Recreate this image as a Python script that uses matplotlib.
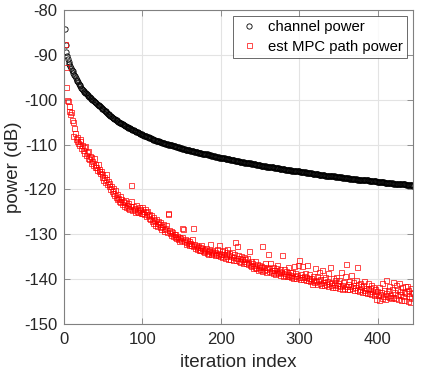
import numpy as np
import matplotlib.pyplot as plt

plt.rcParams['font.family'] = ['Liberation Sans', 'DejaVu Sans']
plt.rcParams['axes.unicode_minus'] = False

# channel power per iteration (dB)
channel_power = [
    -84.3, -87.8, -89.3, -90.2, -90.9, -91.5, -92.0, -92.5, -92.9, -93.3,
    -93.7, -94.1, -94.5, -94.8, -95.2, -95.5, -95.8, -96.1, -96.4, -96.7,
    -97.0, -97.3, -97.5, -97.8, -98.0, -98.2, -98.4, -98.6, -98.8, -99.0,
    -99.2, -99.3, -99.5, -99.7, -99.8, -100.0, -100.1, -100.3, -100.5, -100.6,
    -100.8, -100.9, -101.1, -101.2, -101.4, -101.5, -101.7, -101.8, -102.0, -102.1,
    -102.3, -102.5, -102.6, -102.8, -102.9, -103.1, -103.2, -103.4, -103.6, -103.7,
    -103.8, -104.0, -104.1, -104.2, -104.4, -104.5, -104.6, -104.7, -104.9, -105.0,
    -105.1, -105.2, -105.3, -105.4, -105.5, -105.6, -105.7, -105.8, -105.9, -106.0,
    -106.1, -106.2, -106.3, -106.4, -106.5, -106.6, -106.7, -106.8, -106.8, -106.9,
    -107.0, -107.1, -107.2, -107.3, -107.4, -107.5, -107.6, -107.6, -107.7, -107.8,
    -107.9, -108.0, -108.0, -108.1, -108.2, -108.3, -108.3, -108.4, -108.5, -108.6,
    -108.6, -108.7, -108.8, -108.9, -108.9, -109.0, -109.1, -109.1, -109.2, -109.3,
    -109.3, -109.4, -109.4, -109.5, -109.6, -109.6, -109.7, -109.7, -109.8, -109.8,
    -109.9, -109.9, -110.0, -110.0, -110.1, -110.1, -110.2, -110.2, -110.3, -110.3,
    -110.4, -110.4, -110.5, -110.5, -110.6, -110.6, -110.7, -110.7, -110.8, -110.8,
    -110.9, -110.9, -111.0, -111.0, -111.1, -111.1, -111.2, -111.2, -111.3, -111.3,
    -111.4, -111.4, -111.4, -111.5, -111.5, -111.6, -111.6, -111.7, -111.7, -111.7,
    -111.8, -111.8, -111.9, -111.9, -111.9, -112.0, -112.0, -112.1, -112.1, -112.1,
    -112.2, -112.2, -112.2, -112.3, -112.3, -112.4, -112.4, -112.5, -112.5, -112.6,
    -112.6, -112.6, -112.7, -112.7, -112.8, -112.8, -112.8, -112.9, -112.9, -113.0,
    -113.0, -113.0, -113.1, -113.1, -113.1, -113.2, -113.2, -113.2, -113.3, -113.3,
    -113.3, -113.4, -113.4, -113.4, -113.5, -113.5, -113.5, -113.6, -113.6, -113.6,
    -113.7, -113.7, -113.7, -113.8, -113.8, -113.8, -113.9, -113.9, -113.9, -114.0,
    -114.0, -114.0, -114.1, -114.1, -114.1, -114.2, -114.2, -114.2, -114.3, -114.3,
    -114.3, -114.4, -114.4, -114.4, -114.5, -114.5, -114.5, -114.6, -114.6, -114.6,
    -114.7, -114.7, -114.7, -114.7, -114.8, -114.8, -114.8, -114.9, -114.9, -114.9,
    -115.0, -115.0, -115.0, -115.0, -115.1, -115.1, -115.1, -115.2, -115.2, -115.2,
    -115.2, -115.3, -115.3, -115.3, -115.4, -115.4, -115.4, -115.4, -115.5, -115.5,
    -115.5, -115.6, -115.6, -115.6, -115.6, -115.7, -115.7, -115.7, -115.7, -115.8,
    -115.8, -115.8, -115.8, -115.9, -115.9, -115.9, -116.0, -116.0, -116.0, -116.0,
    -116.1, -116.1, -116.1, -116.1, -116.2, -116.2, -116.2, -116.2, -116.3, -116.3,
    -116.3, -116.3, -116.4, -116.4, -116.4, -116.4, -116.5, -116.5, -116.5, -116.5,
    -116.6, -116.6, -116.6, -116.6, -116.7, -116.7, -116.7, -116.7, -116.8, -116.8,
    -116.8, -116.8, -116.9, -116.9, -116.9, -116.9, -117.0, -117.0, -117.0, -117.0,
    -117.1, -117.1, -117.1, -117.1, -117.1, -117.2, -117.2, -117.2, -117.2, -117.3,
    -117.3, -117.3, -117.3, -117.3, -117.4, -117.4, -117.4, -117.4, -117.5, -117.5,
    -117.5, -117.5, -117.5, -117.6, -117.6, -117.6, -117.6, -117.6, -117.7, -117.7,
    -117.7, -117.7, -117.7, -117.8, -117.8, -117.8, -117.8, -117.8, -117.9, -117.9,
    -117.9, -117.9, -117.9, -118.0, -118.0, -118.0, -118.0, -118.0, -118.1, -118.1,
    -118.1, -118.1, -118.1, -118.2, -118.2, -118.2, -118.2, -118.2, -118.3, -118.3,
    -118.3, -118.3, -118.3, -118.4, -118.4, -118.4, -118.4, -118.4, -118.5, -118.5,
    -118.5, -118.5, -118.5, -118.6, -118.6, -118.6, -118.6, -118.6, -118.6, -118.7,
    -118.7, -118.7, -118.7, -118.7, -118.8, -118.8, -118.8, -118.8, -118.8, -118.8,
    -118.9, -118.9, -118.9, -118.9, -118.9, -119.0, -119.0, -119.0, -119.0, -119.0,
    -119.1, -119.1, -119.1, -119.1, -119.2,
]

# estimated MPC path power per iteration (dB)
mpc_power = [
    -87.5, -92.7, -97.1, -100.0, -100.3, -101.5, -102.6, -103.2, -102.8, -104.5,
    -105.0, -108.2, -106.3, -107.5, -108.8, -109.1, -108.4, -109.6, -110.2, -108.7,
    -109.3, -110.8, -110.0, -111.3, -110.6, -111.9, -110.4, -112.4, -111.7, -112.9,
    -111.5, -113.2, -112.6, -114.0, -112.8, -113.7, -114.6, -113.1, -115.0, -114.3,
    -114.9, -115.6, -114.3, -116.0, -115.4, -116.4, -115.9, -117.3, -116.6, -117.8,
    -117.2, -118.4, -117.6, -116.6, -118.9, -118.1, -119.3, -118.6, -119.8, -119.2,
    -120.3, -119.6, -120.8, -121.2, -120.1, -121.7, -122.2, -121.0, -121.9, -122.5,
    -121.4, -122.8, -122.1, -123.3, -122.6, -122.7, -123.6, -122.3, -123.9, -123.4,
    -124.1, -123.0, -124.4, -123.7, -122.5, -119.0, -124.6, -123.8, -124.3, -125.0,
    -124.2, -123.5, -124.8, -125.1, -124.0, -124.6, -124.4, -125.3, -123.9, -125.2,
    -124.7, -125.5, -124.3, -126.0, -125.1, -124.9, -125.8, -126.3, -125.4, -126.6,
    -125.7, -127.1, -126.2, -127.5, -126.8, -127.9, -126.5, -127.4, -128.1, -127.0,
    -127.8, -128.4, -127.3, -128.8, -128.2, -127.6, -128.9, -129.3, -128.5, -128.0,
    -129.4, -125.5, -125.3, -129.0, -129.8, -129.2, -130.1, -129.6, -130.4, -129.9,
    -130.6, -130.0, -130.9, -130.3, -131.1, -130.5, -131.4, -130.8, -131.2, -130.7,
    -128.6, -128.8, -131.5, -131.0, -131.8, -132.2, -131.3, -132.0, -131.6, -132.5,
    -131.9, -132.3, -131.1, -132.7, -128.6, -132.1, -133.0, -132.4, -132.8, -133.2,
    -132.6, -133.4, -132.9, -133.6, -132.3, -133.1, -133.8, -133.3, -134.0, -133.5,
    -133.0, -134.1, -133.7, -134.3, -133.4, -132.1, -134.0, -134.5, -133.8, -134.2,
    -133.6, -134.6, -133.9, -134.4, -133.2, -134.7, -134.1, -132.5, -134.9, -134.3,
    -133.8, -135.0, -134.5, -133.6, -135.2, -134.0, -134.8, -133.3, -135.4, -134.6,
    -134.2, -135.5, -134.9, -133.9, -135.7, -135.1, -134.4, -131.8, -135.8, -135.2,
    -132.6, -134.7, -135.9, -135.3, -136.1, -134.8, -135.6, -136.3, -135.0, -136.0,
    -135.5, -136.5, -135.2, -136.7, -136.2, -133.8, -136.8, -135.9, -137.1, -136.4,
    -137.5, -136.8, -137.2, -136.0, -137.6, -136.6, -137.9, -137.3, -136.9, -137.7,
    -137.0, -138.1, -132.7, -137.4, -138.0, -136.5, -137.8, -138.3, -137.2, -134.5,
    -138.2, -137.6, -136.4, -138.5, -137.9, -138.6, -137.3, -138.0, -138.8, -137.5,
    -138.3, -136.9, -138.7, -138.1, -139.0, -137.8, -138.4, -134.6, -139.2, -138.6,
    -137.7, -139.1, -138.2, -139.4, -138.9, -137.4, -139.3, -138.5, -139.6, -139.0,
    -138.3, -139.7, -137.1, -139.2, -138.7, -139.8, -139.1, -136.9, -139.5, -135.7,
    -139.9, -138.8, -139.6, -137.0, -140.0, -139.3, -138.6, -140.2, -139.5, -136.8,
    -140.3, -139.7, -138.9, -140.4, -139.8, -141.0, -140.1, -139.2, -140.6, -137.6,
    -140.5, -139.4, -141.1, -140.2, -138.3, -140.8, -139.9, -141.2, -137.9, -140.7,
    -141.4, -140.0, -139.6, -141.0, -140.4, -138.7, -141.5, -140.9, -137.2, -141.3,
    -140.6, -141.7, -139.8, -141.1, -140.3, -141.8, -139.5, -141.4, -140.8, -142.0,
    -140.2, -141.6, -138.4, -141.2, -142.1, -140.7, -141.9, -139.3, -141.5, -136.6,
    -142.2, -141.0, -140.4, -142.3, -141.6, -139.0, -142.0, -141.3, -140.6, -142.4,
    -141.8, -140.2, -137.3, -142.5, -141.1, -142.7, -140.9, -142.1, -141.5, -142.8,
    -141.2, -142.4, -140.5, -142.9, -141.9, -143.1, -142.3, -140.8, -143.2, -142.0,
    -141.4, -143.3, -142.6, -141.7, -143.5, -142.2, -143.0, -144.4, -142.7, -143.6,
    -144.6, -141.8, -143.4, -142.9, -144.2, -140.9, -143.7, -142.5, -144.5, -143.1,
    -140.1, -143.8, -142.4, -144.0, -141.6, -143.5, -144.3, -142.1, -140.7, -143.9,
    -142.8, -144.1, -141.3, -143.6, -142.2, -144.4, -140.9, -143.3, -142.6, -144.7,
    -141.7, -143.8, -142.9, -144.6, -141.6, -143.2, -141.6, -144.9, -142.4, -143.7,
    -145.0, -141.9, -144.3, -142.8, -143.2,
]

iterations = np.arange(1, len(channel_power) + 1)
x_ticks = [0, 100, 200, 300, 400]
y_ticks = [-150, -140, -130, -120, -110, -100, -90, -80]

fig = plt.figure(figsize=(4.23, 3.76), dpi=100)
ax = fig.add_axes([0.1513, 0.1383, 0.8251, 0.8351])

ax.plot(iterations, channel_power, 'o', mfc='none', mec='k', ms=3.8, mew=0.6,
        label='channel power')
ax.plot(iterations, mpc_power, 's', mfc='none', mec='#ff0000', ms=3.6, mew=0.5,
        label='est MPC path power')

ax.set_xlim(0, 445)
ax.set_ylim(-150, -80)
ax.set_xticks(x_ticks)
ax.set_yticks(y_ticks)
ax.grid(True, color='#e3e3e3', linewidth=0.8)
ax.set_axisbelow(True)
ax.tick_params(direction='in', top=True, right=True, length=4, width=0.6,
               colors='#808080', labelcolor='#262626', labelsize=12)
ax.tick_params(axis='x', pad=6)
ax.tick_params(axis='y', pad=5)
for s in ax.spines.values():
    s.set_color('#808080')
    s.set_linewidth(0.8)

ax.set_xlabel('iteration index', fontsize=13.5, color='#262626', labelpad=5)
ax.set_ylabel('power (dB)', fontsize=13.5, color='#262626', labelpad=1)

leg = ax.legend(loc='upper right', fontsize=10.7, frameon=True, fancybox=False,
                edgecolor='#262626', handlelength=1.6, handletextpad=0.45,
                borderpad=0.3, labelspacing=0.35, borderaxespad=0.4)
leg.get_frame().set_linewidth(0.6)

fig.savefig('out.png', dpi=100)
